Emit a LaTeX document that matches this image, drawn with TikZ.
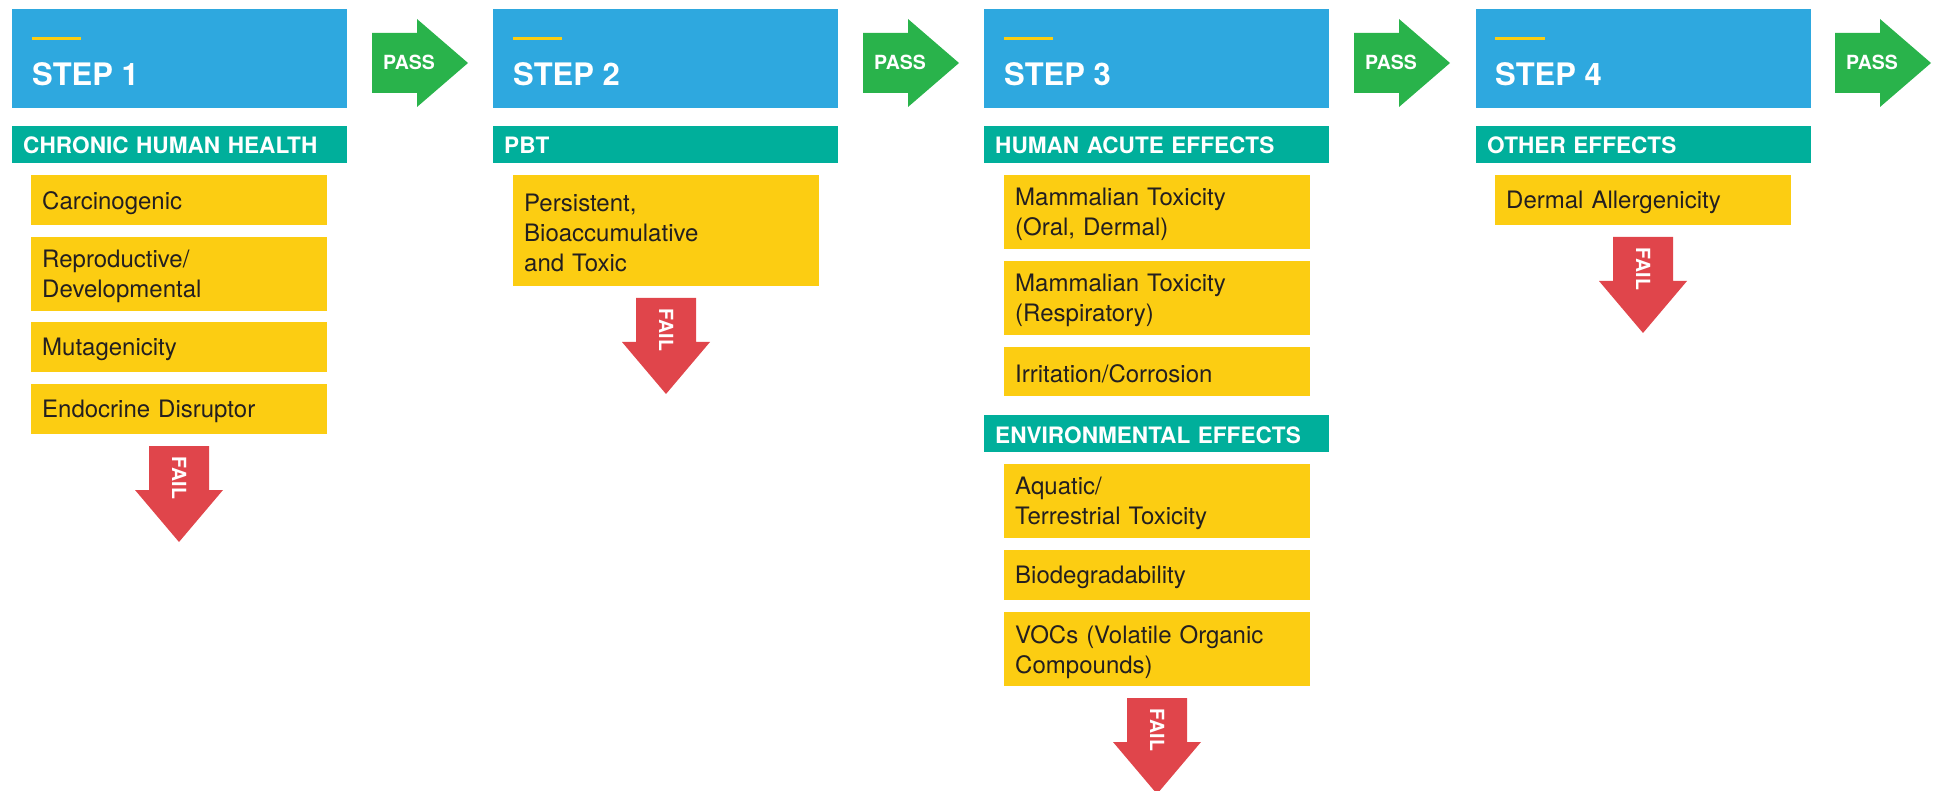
\documentclass[tikz,border=0pt]{standalone}
\usepackage{fontspec}
\setmainfont{TeX Gyre Heros}
\definecolor{stepblue}{RGB}{46,168,223}
\definecolor{catteal}{RGB}{0,175,155}
\definecolor{itemyellow}{RGB}{252,205,18}
\definecolor{passgreen}{RGB}{41,179,75}
\definecolor{failred}{RGB}{224,69,75}
\definecolor{itemtext}{RGB}{35,31,32}
\newcommand{\passarr}[2]{%
  \fill[passgreen] (#1,33) -- ({#1+45},33) -- ({#1+45},19) -- ({#1+96},63) -- ({#1+45},107) -- ({#1+45},93) -- (#1,93) -- cycle;
  \node[passlabel] (#2) at ({#1+37},63) {PASS};}
\newcommand{\failarr}[3]{%
  \fill[failred] ({#1-30},#2) -- ({#1+30},#2) -- ({#1+30},{#2+44}) -- ({#1+44},{#2+44}) -- (#1,{#2+96}) -- ({#1-44},{#2+44}) -- ({#1-30},{#2+44}) -- cycle;
  \node[faillabel] (#3) at (#1,{#2+32}) {FAIL};}
% name, x, y, width, height, text
\newcommand{\itembox}[6]{%
  \node[itembg, minimum width=#4, minimum height=#5] (#1) at (#2,#3) {};
  \node[itemtext, text width={#4-22pt}] (#1-t) at ($(#1.west)+(11,2.5)$) {#6};}
\usetikzlibrary{calc}
\begin{document}
\begin{tikzpicture}[x=1pt,y=-1pt,
  stepbox/.style={fill=stepblue, anchor=north west, inner sep=0pt, minimum height=99pt, minimum width=#1},
  steplabel/.style={anchor=base west, inner sep=0pt, text=white, font=\bfseries\fontsize{31}{31}\selectfont},
  bar/.style={draw=itemyellow, line width=3pt},
  catbar/.style={fill=catteal, anchor=north west, inner xsep=11pt, inner ysep=0pt, minimum height=37pt, text width={#1-22pt}, align=left, text=white, text height=18.6pt, text depth=0pt, font=\bfseries\fontsize{22.6}{26}\selectfont},
  itembg/.style={fill=itemyellow, anchor=north west, inner sep=0pt},
  itemtext/.style={anchor=west, inner sep=0pt, align=left, text=itemtext, font=\fontsize{24}{30}\selectfont},
  passlabel/.style={inner sep=0pt, text=white, text height=14pt, text depth=0pt, font=\bfseries\fontsize{19.5}{20}\selectfont},
  faillabel/.style={inner sep=0pt, rotate=-90, text=white, text height=14pt, text depth=0pt, font=\bfseries\fontsize{19.5}{20}\selectfont}
]
\useasboundingbox (0,0) rectangle (1941,791);
% ---------- STEP 1
\node[stepbox=335pt] (s1) at (12,9) {};
\draw[bar] (32,38.5) -- (81,38.5);
\node[steplabel] (s1l) at (32,86) {STEP 1};
\node[catbar=335pt] (h1) at (12,126) {CHRONIC HUMAN HEALTH};
\itembox{i11}{31}{175}{296pt}{50pt}{Carcinogenic}
\itembox{i12}{31}{237}{296pt}{74pt}{Reproductive/\\Developmental}
\itembox{i13}{31}{322}{296pt}{50pt}{Mutagenicity}
\itembox{i14}{31}{384}{296pt}{50pt}{Endocrine Disruptor}
\failarr{179}{446}{f1}
\passarr{372}{p1}
% ---------- STEP 2
\node[stepbox=345pt] (s2) at (493,9) {};
\draw[bar] (513,38.5) -- (562,38.5);
\node[steplabel] (s2l) at (513,86) {STEP 2};
\node[catbar=345pt] (h2) at (493,126) {PBT};
\itembox{i21}{513}{175}{306pt}{111pt}{Persistent,\\Bioaccumulative\\and Toxic}
\failarr{666}{298}{f2}
\passarr{863}{p2}
% ---------- STEP 3
\node[stepbox=345pt] (s3) at (984,9) {};
\draw[bar] (1004,38.5) -- (1053,38.5);
\node[steplabel] (s3l) at (1004,86) {STEP 3};
\node[catbar=345pt] (h3) at (984,126) {HUMAN ACUTE EFFECTS};
\itembox{i31}{1004}{175}{306pt}{74pt}{Mammalian Toxicity\\(Oral, Dermal)}
\itembox{i32}{1004}{261}{306pt}{74pt}{Mammalian Toxicity\\(Respiratory)}
\itembox{i33}{1004}{347}{306pt}{49pt}{Irritation/Corrosion}
\node[catbar=345pt] (h3b) at (984,415) {ENVIRONMENTAL EFFECTS};
\itembox{i34}{1004}{464}{306pt}{74pt}{Aquatic/\\Terrestrial Toxicity}
\itembox{i35}{1004}{550}{306pt}{50pt}{Biodegradability}
\itembox{i36}{1004}{612}{306pt}{74pt}{VOCs (Volatile Organic\\Compounds)}
\failarr{1157}{698}{f3}
\passarr{1354}{p3}
% ---------- STEP 4
\node[stepbox=335pt] (s4) at (1476,9) {};
\draw[bar] (1495,38.5) -- (1545,38.5);
\node[steplabel] (s4l) at (1495,86) {STEP 4};
\node[catbar=335pt] (h4) at (1476,126) {OTHER EFFECTS};
\itembox{i41}{1495}{175}{296pt}{50pt}{Dermal Allergenicity}
\failarr{1643}{237}{f4}
\passarr{1835}{p4}
\end{tikzpicture}
\end{document}
